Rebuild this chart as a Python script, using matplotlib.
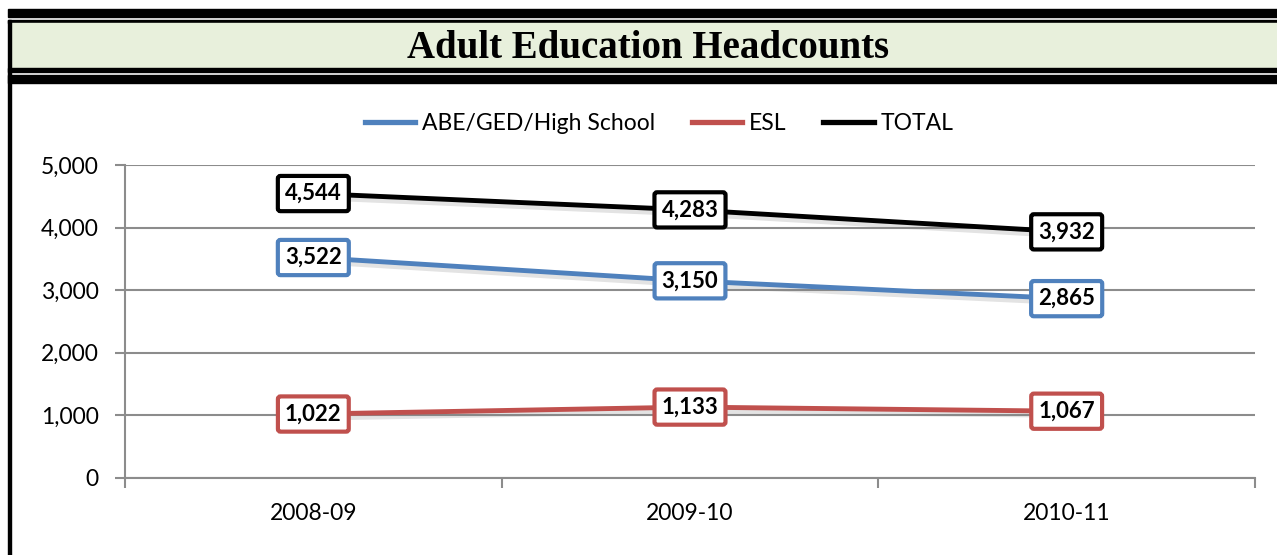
import matplotlib
matplotlib.use("Agg")
import matplotlib.pyplot as plt
import matplotlib.patheffects as pe
from matplotlib.patches import Rectangle
from matplotlib.lines import Line2D

# ---------------------------------------
# Data
# ---------------------------------------
years = ["2008-09", "2009-10", "2010-11"]
abe = [3522, 3150, 2865]
esl = [1022, 1133, 1067]
total = [4544, 4283, 3932]

series_names = ["ABE/GED/High School", "ESL", "TOTAL"]
series_colors = ["#4F81BD", "#C0504D", "#000000"]
y_ticks = [0, 1000, 2000, 3000, 4000, 5000]

W, H = 1277, 555
plt.rcParams["font.family"] = ["Lato", "DejaVu Sans"]

fig = plt.figure(figsize=(W / 100, H / 100), dpi=100)

# ---------------------------------------
# Header bands / frame (pixel coordinates)
# ---------------------------------------
bg = fig.add_axes([0, 0, 1, 1])
bg.set_xlim(0, W)
bg.set_ylim(H, 0)
bg.axis("off")

bg.add_patch(Rectangle((8, 9), W - 8, 8, color="black"))
bg.add_patch(Rectangle((8, 20), W - 8, 3, color="black"))
bg.add_patch(Rectangle((10, 23), W - 10, 45, color="#E8F0DC"))
bg.add_patch(Rectangle((8, 68), W - 8, 4, color="black"))
bg.add_patch(Rectangle((8, 75), W - 8, 8, color="black"))
bg.add_patch(Rectangle((8, 20), 3, H - 20, color="black"))

bg.text(648, 48, "Adult Education Headcounts", ha="center", va="center",
        fontsize=28, fontweight="bold", family="Liberation Serif")

# ---------------------------------------
# Line chart
# ---------------------------------------
ax = fig.add_axes([125 / W, (H - 478) / H, (1255 - 125) / W, (478 - 165) / H])
ax.patch.set_alpha(0)

x = list(range(len(years)))
shadow = [pe.SimpleLineShadow(offset=(1.5, -3), shadow_color="gray", alpha=0.22),
          pe.Normal()]

for vals, name, col in zip([abe, esl, total], series_names, series_colors):
    ax.plot(x, vals, color=col, lw=3.5, solid_capstyle="round",
            path_effects=shadow, zorder=3)
    for xi, v in zip(x, vals):
        ax.annotate(f"{v:,}", (xi, v), ha="center", va="center",
                    fontsize=16, fontweight="bold", zorder=5,
                    bbox=dict(boxstyle="round,pad=0.32,rounding_size=0.12",
                              fc="white", ec=col, lw=3))

ax.set_xlim(-0.5, 2.5)
ax.set_ylim(0, 5000)
ax.set_yticks(y_ticks)
ax.set_yticklabels([f"{t:,}" for t in y_ticks], fontsize=16.5)
ax.set_xticks(x)
ax.set_xticklabels(years, fontsize=16.5)
ax.set_xticks([-0.5, 0.5, 1.5, 2.5], minor=True)

ax.grid(axis="y", color="#8C8C8C", lw=1.5)
for s in ["top", "right"]:
    ax.spines[s].set_visible(False)
for s in ["left", "bottom"]:
    ax.spines[s].set_color("#8C8C8C")
    ax.spines[s].set_linewidth(1.5)

ax.tick_params(axis="y", length=7, width=1.5, color="#8C8C8C", pad=12)
ax.tick_params(axis="x", which="major", length=0, pad=18)
ax.tick_params(axis="x", which="minor", length=7, width=1.5, color="#8C8C8C")

handles = [Line2D([], [], color=c, lw=3.8) for c in series_colors]
fig.legend(handles, series_names, loc="center", bbox_to_anchor=(659 / W, 1 - 124 / H),
           ncol=3, frameon=False, fontsize=16.5, handlelength=2.2,
           columnspacing=1.6, handletextpad=0.3)

fig.savefig("out.png", dpi=100)
